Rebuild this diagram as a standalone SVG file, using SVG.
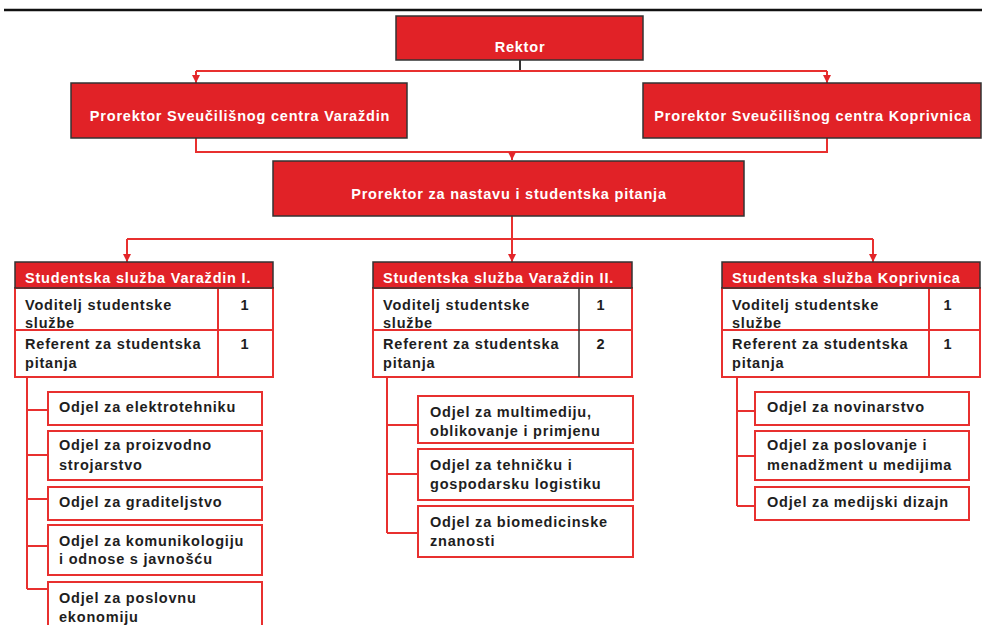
<svg xmlns="http://www.w3.org/2000/svg" width="982" height="625" viewBox="0 0 982 625">
<defs>
<marker id="arrow" viewBox="0 0 8 8" refX="8" refY="4" markerWidth="8" markerHeight="8" orient="auto" markerUnits="userSpaceOnUse">
<path d="M0,0 L8,4 L0,8 z" fill="#e3262a"/>
</marker>
</defs>
<style>
.hd{fill:#e12227;stroke:#333;stroke-width:1.5}
.wt{fill:#fff;font-family:"Liberation Sans",Arial,sans-serif;font-weight:bold;font-size:14.5px;letter-spacing:0.8px}
.tb{fill:#fff;stroke:#e8302f;stroke-width:2}
.dp{fill:#fff;stroke:#e8302f;stroke-width:2}
.tx{fill:#1e1e1e;font-family:"Liberation Sans",Arial,sans-serif;font-weight:bold;font-size:14.5px;letter-spacing:0.8px}
.ln{fill:none;stroke:#e8302f;stroke-width:2}
.ar{fill:none;stroke:#e8302f;stroke-width:2;marker-end:url(#arrow)}
</style>
<rect width="982" height="625" fill="#fff"/>
<line x1="4" y1="10" x2="982" y2="10" stroke="#111" stroke-width="2.5"/>

<g id="connectors">
<line x1="520" y1="60" x2="520" y2="71" stroke="#333" stroke-width="2"/>
<path class="ln" d="M196,71 H827"/>
<path class="ar" d="M196,71 V83"/>
<path class="ar" d="M827,71 V83"/>
<path class="ln" d="M196,138 V152 H827 V138"/>
<path class="ar" d="M512,152 V160"/>
<path class="ar" d="M512,216 V262"/>
<path class="ln" d="M127,239 H873"/>
<path class="ar" d="M127,239 V262"/>
<path class="ar" d="M873,239 V262"/>
<path class="ln" d="M27,377 V589 M27,410 H48 M27,455 H48 M27,499 H48 M27,546 H48 M27,589 H48"/>
<path class="ln" d="M387,377 V533 M387,425 H418 M387,474 H418 M387,533 H418"/>
<path class="ln" d="M737,377 V506 M737,411 H755 M737,456 H755 M737,506 H755"/>
</g>

<g id="rektor">
<rect class="hd" x="396" y="16" width="247" height="44"/>
<text class="wt" x="520" y="52" text-anchor="middle">Rektor</text>
</g>
<g id="prorektor-varazdin">
<rect class="hd" x="71" y="83" width="336" height="55"/>
<text class="wt" x="240" y="121" text-anchor="middle">Prorektor Sveučilišnog centra Varaždin</text>
</g>
<g id="prorektor-koprivnica">
<rect class="hd" x="643" y="83" width="338" height="55"/>
<text class="wt" x="813" y="121" text-anchor="middle">Prorektor Sveučilišnog centra Koprivnica</text>
</g>
<g id="prorektor-nastava">
<rect class="hd" x="273" y="161" width="471" height="55"/>
<text class="wt" x="509" y="199" text-anchor="middle">Prorektor za nastavu i studentska pitanja</text>
</g>

<g id="sluzba-varazdin-1">
<rect class="tb" x="15" y="288" width="258" height="42"/>
<rect class="tb" x="15" y="330" width="258" height="47"/>
<line x1="218" y1="288" x2="218" y2="377" stroke="#e8302f" stroke-width="2"/>
<rect class="hd" x="15" y="262" width="258" height="26"/>
<text class="wt" x="25" y="283">Studentska služba Varaždin I.</text>
<text class="tx" x="25" y="310">Voditelj studentske</text>
<text class="tx" x="25" y="328">službe</text>
<text class="tx" x="245" y="310" text-anchor="middle">1</text>
<text class="tx" x="25" y="349">Referent za studentska</text>
<text class="tx" x="25" y="368">pitanja</text>
<text class="tx" x="245" y="349" text-anchor="middle">1</text>
</g>
<g id="sluzba-varazdin-2">
<rect class="tb" x="373" y="288" width="259" height="42"/>
<rect class="tb" x="373" y="330" width="259" height="47"/>
<line x1="579" y1="288" x2="579" y2="377" stroke="#333" stroke-width="1.5"/>
<rect class="hd" x="373" y="262" width="259" height="26"/>
<text class="wt" x="383" y="283">Studentska služba Varaždin II.</text>
<text class="tx" x="383" y="310">Voditelj studentske</text>
<text class="tx" x="383" y="328">službe</text>
<text class="tx" x="601" y="310" text-anchor="middle">1</text>
<text class="tx" x="383" y="349">Referent za studentska</text>
<text class="tx" x="383" y="368">pitanja</text>
<text class="tx" x="601" y="349" text-anchor="middle">2</text>
</g>
<g id="sluzba-koprivnica">
<rect class="tb" x="722" y="288" width="258" height="42"/>
<rect class="tb" x="722" y="330" width="258" height="47"/>
<line x1="929" y1="288" x2="929" y2="377" stroke="#e8302f" stroke-width="2"/>
<rect class="hd" x="722" y="262" width="258" height="26"/>
<text class="wt" x="732" y="283">Studentska služba Koprivnica</text>
<text class="tx" x="732" y="310">Voditelj studentske</text>
<text class="tx" x="732" y="328">službe</text>
<text class="tx" x="948" y="310" text-anchor="middle">1</text>
<text class="tx" x="732" y="349">Referent za studentska</text>
<text class="tx" x="732" y="368">pitanja</text>
<text class="tx" x="948" y="349" text-anchor="middle">1</text>
</g>

<g id="odjel-elektrotehnika">
<rect class="dp" x="48" y="392" width="214" height="33"/>
<text class="tx" x="59" y="412">Odjel za elektrotehniku</text>
</g>
<g id="odjel-strojarstvo">
<rect class="dp" x="48" y="431" width="214" height="49"/>
<text class="tx" x="59" y="450">Odjel za proizvodno</text>
<text class="tx" x="59" y="470">strojarstvo</text>
</g>
<g id="odjel-graditeljstvo">
<rect class="dp" x="48" y="487" width="214" height="33"/>
<text class="tx" x="59" y="507">Odjel za graditeljstvo</text>
</g>
<g id="odjel-komunikologija">
<rect class="dp" x="48" y="525" width="214" height="50"/>
<text class="tx" x="59" y="546">Odjel za komunikologiju</text>
<text class="tx" x="59" y="564">i odnose s javnošću</text>
</g>
<g id="odjel-ekonomija">
<rect class="dp" x="48" y="582" width="214" height="50"/>
<text class="tx" x="59" y="603">Odjel za poslovnu</text>
<text class="tx" x="59" y="622">ekonomiju</text>
</g>

<g id="odjel-multimedija">
<rect class="dp" x="418" y="396" width="215" height="47"/>
<text class="tx" x="430" y="417">Odjel za multimediju,</text>
<text class="tx" x="430" y="436">oblikovanje i primjenu</text>
</g>
<g id="odjel-logistika">
<rect class="dp" x="418" y="449" width="215" height="51"/>
<text class="tx" x="430" y="470">Odjel za tehničku i</text>
<text class="tx" x="430" y="489">gospodarsku logistiku</text>
</g>
<g id="odjel-biomedicina">
<rect class="dp" x="418" y="506" width="215" height="51"/>
<text class="tx" x="430" y="527">Odjel za biomedicinske</text>
<text class="tx" x="430" y="546">znanosti</text>
</g>

<g id="odjel-novinarstvo">
<rect class="dp" x="755" y="392" width="214" height="33"/>
<text class="tx" x="767" y="412">Odjel za novinarstvo</text>
</g>
<g id="odjel-poslovanje">
<rect class="dp" x="755" y="431" width="214" height="49"/>
<text class="tx" x="767" y="450">Odjel za poslovanje i</text>
<text class="tx" x="767" y="470">menadžment u medijima</text>
</g>
<g id="odjel-dizajn">
<rect class="dp" x="755" y="487" width="214" height="33"/>
<text class="tx" x="767" y="507">Odjel za medijski dizajn</text>
</g>
</svg>
